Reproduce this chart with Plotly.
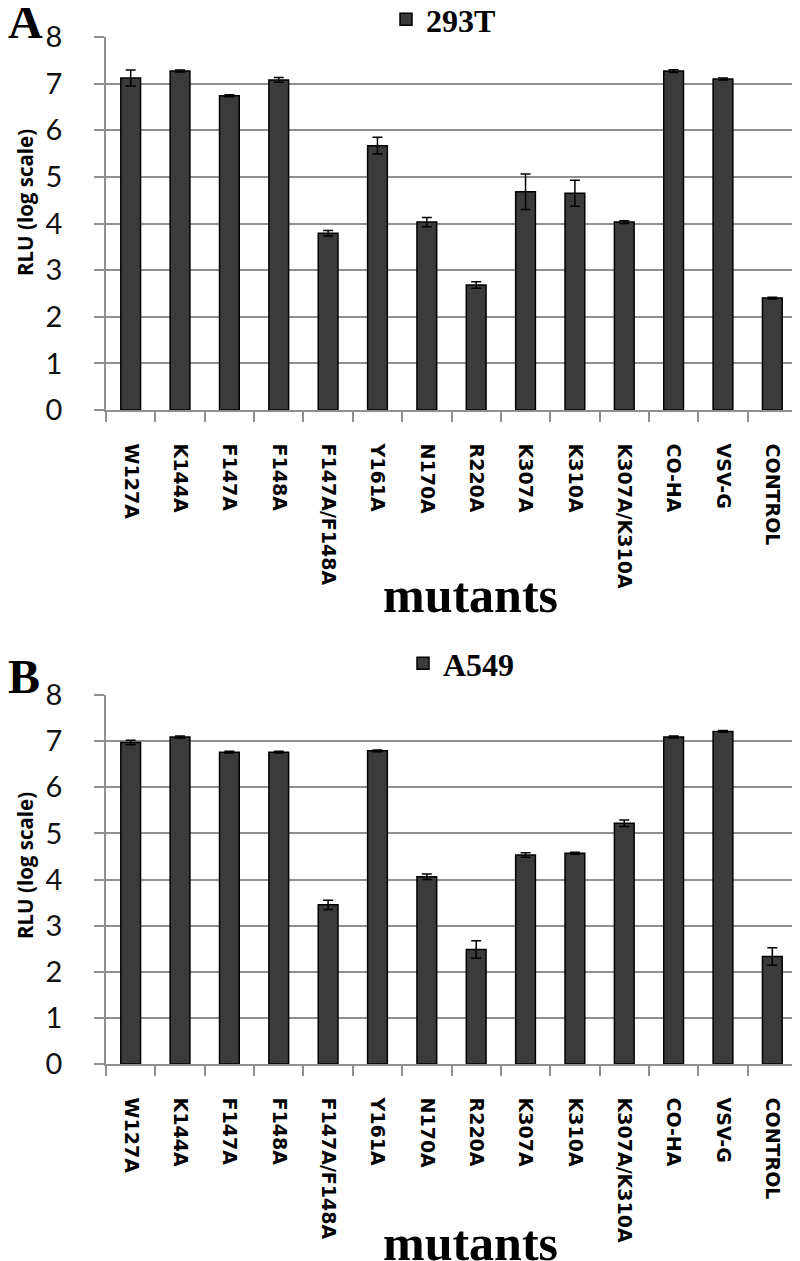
import plotly.graph_objects as go

categories = ["W127A", "K144A", "F147A", "F148A", "F147A/F148A", "Y161A", "N170A",
              "R220A", "K307A", "K310A", "K307A/K310A", "CO-HA", "VSV-G", "CONTROL"]

vals_293t = [7.12, 7.27, 6.74, 7.08, 3.79, 5.67, 4.03, 2.68, 4.68, 4.65, 4.03, 7.27, 7.10, 2.40]
err_293t = [0.17, 0.02, 0.02, 0.05, 0.06, 0.18, 0.10, 0.07, 0.38, 0.28, 0.03, 0.03, 0.02, 0.02]

vals_a549 = [6.97, 7.09, 6.76, 6.76, 3.45, 6.79, 4.06, 2.48, 4.53, 4.57, 5.22, 7.09, 7.21, 2.33]
err_a549 = [0.05, 0.02, 0.02, 0.02, 0.10, 0.02, 0.06, 0.19, 0.05, 0.02, 0.07, 0.02, 0.02, 0.19]

W, H = 800, 1261
OFF = 8  # page body margin
BAR = "#3b3b3b"
GRID = "#8f8f8f"

def py(pix):
    return 1 - (pix - OFF) / H

def px(pix):
    return (pix - OFF) / W

fig = go.Figure()
fig.add_trace(go.Bar(
    x=categories, y=vals_293t, name="293T",
    error_y=dict(type="data", array=err_293t, color="black", thickness=1.5, width=5),
    marker=dict(color=BAR, line=dict(color="black", width=1.5)),
    width=0.4, xaxis="x", yaxis="y", legend="legend"))
fig.add_trace(go.Bar(
    x=categories, y=vals_a549, name="A549",
    error_y=dict(type="data", array=err_a549, color="black", thickness=1.5, width=5),
    marker=dict(color=BAR, line=dict(color="black", width=1.5)),
    width=0.4, xaxis="x2", yaxis="y2", legend="legend2"))

xax = dict(showline=True, linecolor=GRID, linewidth=1.5, ticks="outside", ticklen=10,
           tickcolor=GRID, tickwidth=1.5, tickson="boundaries", tickangle=90,
           tickfont=dict(family="DejaVu Sans", size=19, color="black", weight="bold"),
           showgrid=False, ticklabelstandoff=28, automargin=False,
           domain=[px(106), px(797)])
yax = dict(range=[0, 8], dtick=1, showline=True, linecolor=GRID, linewidth=1.5,
           ticks="outside", ticklen=10, tickcolor=GRID, tickwidth=1.5,
           showgrid=True, gridcolor=GRID, gridwidth=1.5, zeroline=False, automargin=False,
           tickfont=dict(family="Lato", size=29, color="#111"), ticklabelstandoff=26)

leg_font = dict(family="Liberation Serif", size=32, color="black", weight="bold")
fig.update_layout(
    width=W, height=H, margin=dict(l=0, r=0, t=0, b=0, autoexpand=False),
    paper_bgcolor="white", plot_bgcolor="white", bargap=0.6,
    xaxis=dict(xax, anchor="y"),
    yaxis=dict(yax, anchor="x", domain=[py(410), py(37)]),
    xaxis2=dict(xax, anchor="y2"),
    yaxis2=dict(yax, anchor="x2", domain=[py(1064), py(695)]),
    legend=dict(x=378 / W, y=1 + 16 / H, xanchor="left", yanchor="top", font=leg_font,
                bgcolor="rgba(0,0,0,0)", itemwidth=30),
    legend2=dict(x=395 / W, y=py(636), xanchor="left", yanchor="top", font=leg_font,
                 bgcolor="rgba(0,0,0,0)", itemwidth=30),
    showlegend=True,
)

serif_b = dict(family="Liberation Serif", color="black", weight="bold")
ann = [
    dict(text="A", x=-2 / W, y=py(-7), xanchor="left", yanchor="top", font=dict(serif_b, size=48)),
    dict(text="B", x=-2 / W, y=py(648), xanchor="left", yanchor="top", font=dict(serif_b, size=48)),
    dict(text="mutants", x=px(470), y=py(595), xanchor="center", yanchor="middle",
         font=dict(serif_b, size=50)),
    dict(text="mutants", x=px(470), y=py(1243), xanchor="center", yanchor="middle",
         font=dict(serif_b, size=50)),
    dict(text="RLU (log scale)", x=px(25), y=py(203), xanchor="center", yanchor="middle",
         textangle=-90, font=dict(family="Open Sans", size=20.5, color="black", weight="bold")),
    dict(text="RLU (log scale)", x=px(25), y=py(866), xanchor="center", yanchor="middle",
         textangle=-90, font=dict(family="Open Sans", size=20.5, color="black", weight="bold")),
]
for a in ann:
    a.update(xref="paper", yref="paper", showarrow=False)
fig.update_layout(annotations=ann)

fig.write_html("out.html")
